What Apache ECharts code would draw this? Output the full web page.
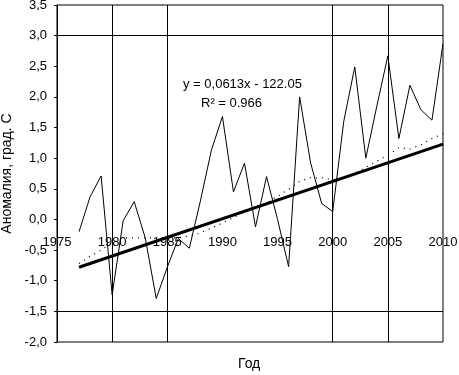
<!DOCTYPE html>
<html lang="ru">
<head>
    <meta charset="UTF-8">
    <title>Аномалия</title>
    <script src="https://cdn.jsdelivr.net/npm/echarts@6/dist/echarts.min.js"></script>
    <style>
        html, body { margin: 0; padding: 0; background: #fff; }
    </style>
</head>
<body>
    <div id="main" style="width: 459px;height: 375px;"></div>
    <script type="text/javascript">
        // годы и аномалии (с графика)
        var years = [1977, 1978, 1979, 1980, 1981, 1982, 1983, 1984, 1985, 1986, 1987, 1988,
            1989, 1990, 1991, 1992, 1993, 1994, 1995, 1996, 1997, 1998, 1999, 2000,
            2001, 2002, 2003, 2004, 2005, 2006, 2007, 2008, 2009, 2010];
        var anomaly = [-0.20, 0.37, 0.71, -1.23, -0.02, 0.29, -0.30, -1.29, -0.78, -0.31, -0.47, 0.30,
            1.13, 1.68, 0.45, 0.92, -0.12, 0.70, 0.00, -0.77, 2.00, 0.92, 0.26, 0.13,
            1.60, 2.49, 1.00, 1.85, 2.67, 1.32, 2.19, 1.79, 1.62, 2.87];
        // сглаженный ряд (точки)
        var smoothed = [-0.72, -0.60, -0.50, -0.38, -0.30, -0.30, -0.30, -0.30, -0.30, -0.30, -0.27, -0.22,
            -0.14, -0.06, 0.03, 0.12, 0.20, 0.27, 0.38, 0.49, 0.62, 0.68, 0.68, 0.65,
            0.68, 0.75, 0.85, 0.95, 1.05, 1.17, 1.15, 1.22, 1.32, 1.40];
        // линия тренда
        var trendYears = [1977, 2010];
        var trendValues = [-0.78, 1.23];
        // тёмные линии сетки
        var darkYears = [1980, 1985, 2000, 2005];
        var darkLevels = [3.0, -1.5];

        var eqText = 'y = 0,0613x - 122.05';
        var r2Text = 'R² = 0.966';

        function pairs(xs, ys) {
            return xs.map(function (x, i) { return [x, ys[i]]; });
        }

        var myChart = echarts.init(document.getElementById('main'));
        var font = 'Liberation Sans, Arial, sans-serif';

        myChart.setOption({
            animation: false,
            textStyle: { fontFamily: font },
            grid: {
                left: 57, right: 16, top: 5, bottom: 33,
                outerBoundsMode: 'none',
                containLabel: false,
                show: true, borderColor: '#000', borderWidth: 1
            },
            xAxis: {
                type: 'value',
                min: 1975, max: 2010, interval: 5,
                position: 'bottom',
                offset: -122.5, // подписи годов на линии 0
                axisLine: { show: false, onZero: false },
                axisTick: { show: false },
                splitLine: { show: false },
                axisLabel: {
                    color: '#000', fontSize: 13, margin: 16, fontFamily: font,
                    showMinLabel: true, showMaxLabel: true,
                    formatter: function (v) { return String(v); }
                }
            },
            yAxis: {
                type: 'value',
                min: -2, max: 3.5, interval: 0.5,
                name: 'Аномалия, град. С',
                nameLocation: 'middle',
                nameGap: 42,
                nameTextStyle: { color: '#000', fontSize: 14, fontFamily: font },
                axisLine: { show: true, onZero: false, lineStyle: { color: '#000' } },
                axisTick: { show: true, inside: false, length: 3, lineStyle: { color: '#000' } },
                splitLine: { show: false },
                axisLabel: {
                    color: '#000', fontSize: 13, margin: 10, fontFamily: font,
                    formatter: function (v) { return v.toFixed(1).replace('.', ','); }
                }
            },
            graphic: [
                { type: 'text', left: 183, top: 78, style: { text: eqText, fill: '#000', font: '13px ' + font } },
                { type: 'text', left: 201, top: 97, style: { text: r2Text, fill: '#000', font: '13px ' + font } },
                { type: 'text', left: 238, top: 357, style: { text: 'Год', fill: '#000', font: '14px ' + font } }
            ],
            series: [
                {
                    name: 'Аномалия',
                    type: 'line',
                    data: pairs(years, anomaly),
                    symbol: 'none',
                    lineStyle: { color: '#000', width: 1 },
                    markLine: {
                        silent: true,
                        symbol: 'none',
                        label: { show: false },
                        lineStyle: { color: '#000', width: 1, type: 'solid' },
                        data: darkYears.map(function (x) { return { xAxis: x }; })
                            .concat(darkLevels.map(function (y) { return { yAxis: y }; }))
                    }
                },
                {
                    name: 'Сглаженный',
                    type: 'line',
                    data: pairs(years, smoothed),
                    symbol: 'none',
                    lineStyle: { color: '#000', width: 1.2, type: [1, 5] }
                },
                {
                    name: 'Тренд',
                    type: 'line',
                    data: pairs(trendYears, trendValues),
                    symbol: 'none',
                    lineStyle: { color: '#000', width: 3 }
                }
            ]
        });
    </script>
</body>
</html>
